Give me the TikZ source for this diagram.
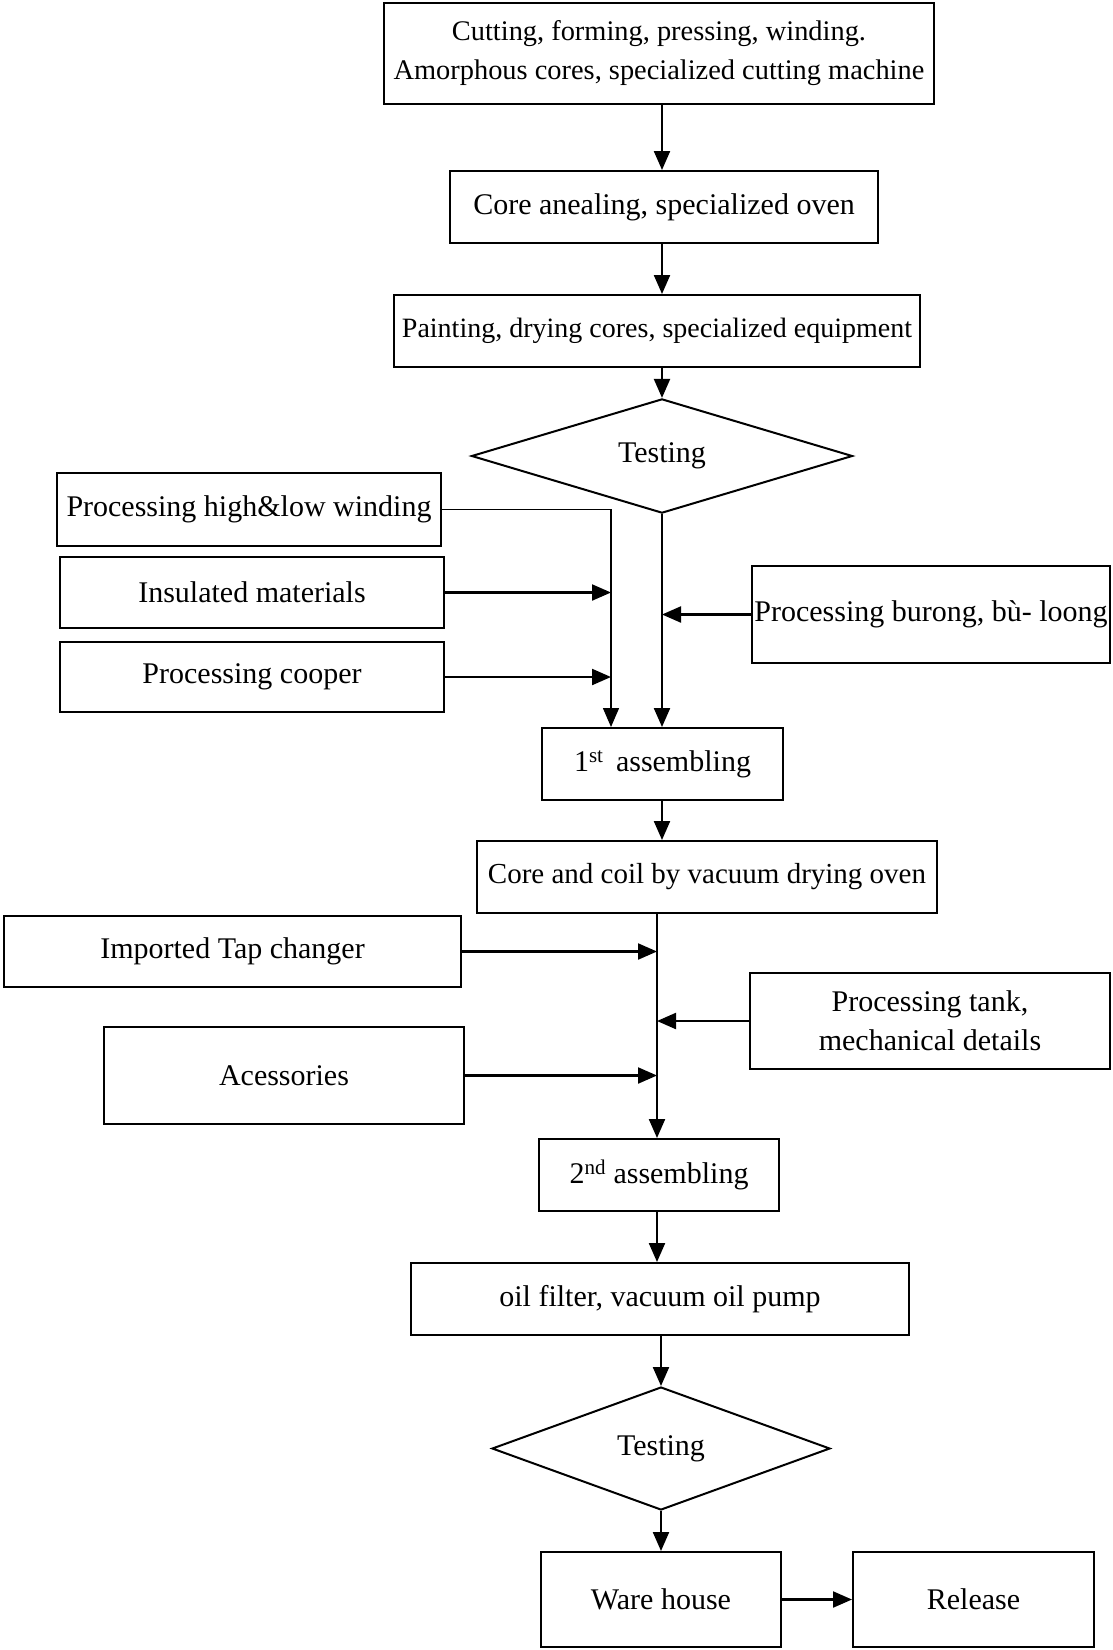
\documentclass[tikz,border=0pt]{standalone}
\usepackage{fontspec}
\setmainfont{Liberation Serif}
\usetikzlibrary{arrows.meta,shapes.geometric}
\begin{document}
\begin{tikzpicture}[x=1pt,y=-1pt,
  box/.style={draw, line width=2pt, rectangle, inner sep=0pt, align=center,
    font=\fontsize{30}{39}\selectfont},
  dia/.style={draw, line width=2pt, diamond, inner sep=0pt,
    font=\fontsize{30}{39}\selectfont},
  arr/.style={line width=2.2pt, -{Triangle[length=19pt,width=16pt]}},
  thinarr/.style={line width=1.4pt, -{Triangle[length=19pt,width=16pt]}}]
\useasboundingbox (0,0) rectangle (1112,1650);

% guide columns for the vertical flow lines
\coordinate (c1) at (662,0);
\coordinate (c2) at (611,0);
\coordinate (c3) at (657,0);

% core line
\node[box, minimum width=550pt, minimum height=101pt, font=\fontsize{28.4}{39}\selectfont]
  (cut) at (659,53.5) {Cutting, forming, pressing, winding.\\Amorphous cores, specialized cutting machine};
\node[box, minimum width=428pt, minimum height=72pt] (ann) at (664,207) {Core anealing, specialized oven};
\node[box, minimum width=526pt, minimum height=72pt, font=\fontsize{28}{39}\selectfont]
  (paint) at (657,331) {Painting, drying cores, specialized equipment};
\node[dia, minimum width=381pt, minimum height=108pt] (test1) at (662,456) {Testing};

% winding side inputs
\node[box, minimum width=384pt, minimum height=73pt] (hl) at (249,509.5) {Processing high\&low winding};
\node[box, minimum width=384pt, minimum height=71pt] (ins) at (252,592.5) {Insulated materials};
\node[box, minimum width=384pt, minimum height=70pt] (coop) at (252,677) {Processing cooper};
\node[box, minimum width=358pt, minimum height=97pt] (bur) at (931,614.5) {Processing burong, bù- loong};

\node[box, minimum width=241pt, minimum height=72pt] (asm1) at (662.5,764) {1\textsuperscript{st}\, assembling};
\node[box, minimum width=460pt, minimum height=72pt, font=\fontsize{29}{39}\selectfont]
  (dry) at (707,877) {Core and coil by vacuum drying oven};

% tank side inputs
\node[box, minimum width=457pt, minimum height=71pt] (tap) at (232.5,951.5) {Imported Tap changer};
\node[box, minimum width=360pt, minimum height=96pt] (tank) at (930,1021) {Processing tank,\\mechanical details};
\node[box, minimum width=360pt, minimum height=97pt] (acc) at (284,1075.5) {Acessories};

\node[box, minimum width=240pt, minimum height=72pt] (asm2) at (659,1175) {2\textsuperscript{nd} assembling};
\node[box, minimum width=498pt, minimum height=72pt] (oil) at (660,1299) {oil filter, vacuum oil pump};
\node[dia, minimum width=338pt, minimum height=123pt] (test2) at (661,1448.5) {Testing};
\node[box, minimum width=240pt, minimum height=95pt] (ware) at (661,1599.5) {Ware house};
\node[box, minimum width=241pt, minimum height=95pt] (rel) at (973.5,1599.5) {Release};

% connectors
\draw[arr] (cut.south -| c1) -- (ann.north -| c1);
\draw[arr] (ann.south -| c1) -- (paint.north -| c1);
\draw[arr] (paint.south -| c1) -- (test1.north);
\draw[arr] (test1.south) -- (test1.south |- asm1.north);
\draw[thinarr] (hl.east) -| (asm1.north -| c2);
\draw[arr] (ins.east) -- (ins.east -| c2);
\draw[arr] (coop.east) -- (coop.east -| c2);
\draw[arr] (bur.west) -- (bur.west -| test1.south);
\draw[arr] (asm1.south -| c1) -- (dry.north -| c1);
\draw[arr] (dry.south -| c3) -- (asm2.north -| c3);
\draw[arr] (tap.east) -- (tap.east -| c3);
\draw[arr] (tank.west) -- (tank.west -| c3);
\draw[arr] (acc.east) -- (acc.east -| c3);
\draw[arr] (asm2.south -| c3) -- (oil.north -| c3);
\draw[arr] (oil.south -| test2.north) -- (test2.north);
\draw[arr] (test2.south) -- (ware.north);
\draw[arr] (ware.east) -- (rel.west);
\end{tikzpicture}
\end{document}
